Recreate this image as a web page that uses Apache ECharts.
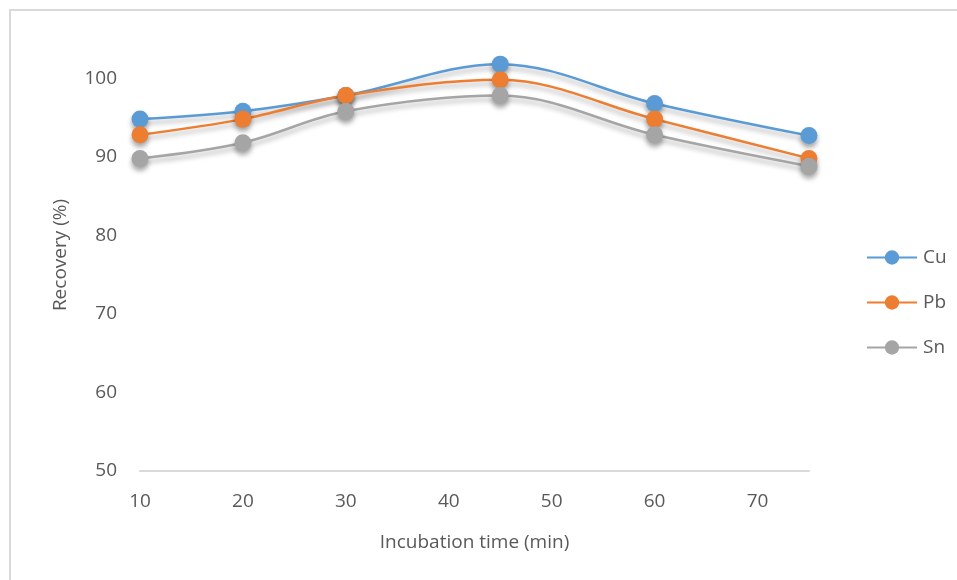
<!DOCTYPE html>
<html><head><meta charset="utf-8">
<script src="https://cdn.jsdelivr.net/npm/echarts@6/dist/echarts.min.js"></script>
<style>html,body{margin:0;padding:0;background:#fff}#c{width:957px;height:580px}</style>
</head><body><div id="c"></div>
<script>
var times = [10, 20, 30, 45, 60, 75];
var cu = [94.8, 95.8, 97.8, 101.8, 96.8, 92.7];
var pb = [92.8, 94.8, 97.8, 99.8, 94.8, 89.8];
var sn = [89.8, 91.8, 95.8, 97.8, 92.8, 88.8];
var seriesNames = ['Cu', 'Pb', 'Sn'];
var colors = ['#5B9BD5', '#ED7D31', '#A5A5A5'];
var font = '"Open Sans", sans-serif';
function pairs(v){ return times.map(function(t,i){ return [t, v[i]]; }); }
var chart = echarts.init(document.getElementById('c'), null, {renderer:'canvas'});
function mk(name, vals, color){
  return {
    name: name, type: 'line', smooth: 0.35, data: pairs(vals),
    symbol: 'circle', symbolSize: 17, color: color,
    lineStyle: {width: 2.5, color: color, shadowColor: 'rgba(0,0,0,0.3)', shadowBlur: 5, shadowOffsetY: 4},
    itemStyle: {color: color, shadowColor: 'rgba(0,0,0,0.35)', shadowBlur: 5, shadowOffsetY: 4},
    emphasis: {disabled: true}
  };
}
chart.setOption({
  animation: false,
  backgroundColor: '#fff',
  graphic: [{type:'rect', shape:{x:10, y:10, width:1000, height:1000}, style:{fill:'none', stroke:'#d9d9d9', lineWidth:2}, silent:true, z:-1}],
  grid: {left: 140, right: 148, top: 39, bottom: 109},
  legend: {
    orient: 'vertical', left: 861, top: 243, itemWidth: 50, itemHeight: 18, itemGap: 26,
    data: seriesNames,
    textStyle: {fontFamily: font, fontSize: 19, color: '#595959', padding:[0,0,0,1]}
  },
  xAxis: {
    type: 'value', min: 10, max: 75, interval: 10,
    name: 'Incubation time (min)', nameLocation: 'middle', nameGap: 62,
    nameTextStyle: {fontFamily: font, fontSize: 19, color: '#595959'},
    axisLine: {lineStyle: {color: '#d9d9d9', width: 2}},
    axisTick: {show: false}, splitLine: {show: false},
    axisLabel: {showMaxLabel: false, fontFamily: font, fontSize: 19, color: '#595959', margin: 21}
  },
  yAxis: {
    type: 'value', min: 50, max: 105, interval: 10,
    name: 'Recovery (%)', nameLocation: 'middle', nameGap: 70,
    nameTextStyle: {fontFamily: font, fontSize: 19, color: '#595959'},
    axisLine: {show: false}, axisTick: {show: false}, splitLine: {show: false},
    axisLabel: {showMaxLabel: false, fontFamily: font, fontSize: 19, color: '#595959', margin: 23}
  },
  series: [mk('Cu', cu, colors[0]), mk('Pb', pb, colors[1]), mk('Sn', sn, colors[2])]
});
</script></body></html>
